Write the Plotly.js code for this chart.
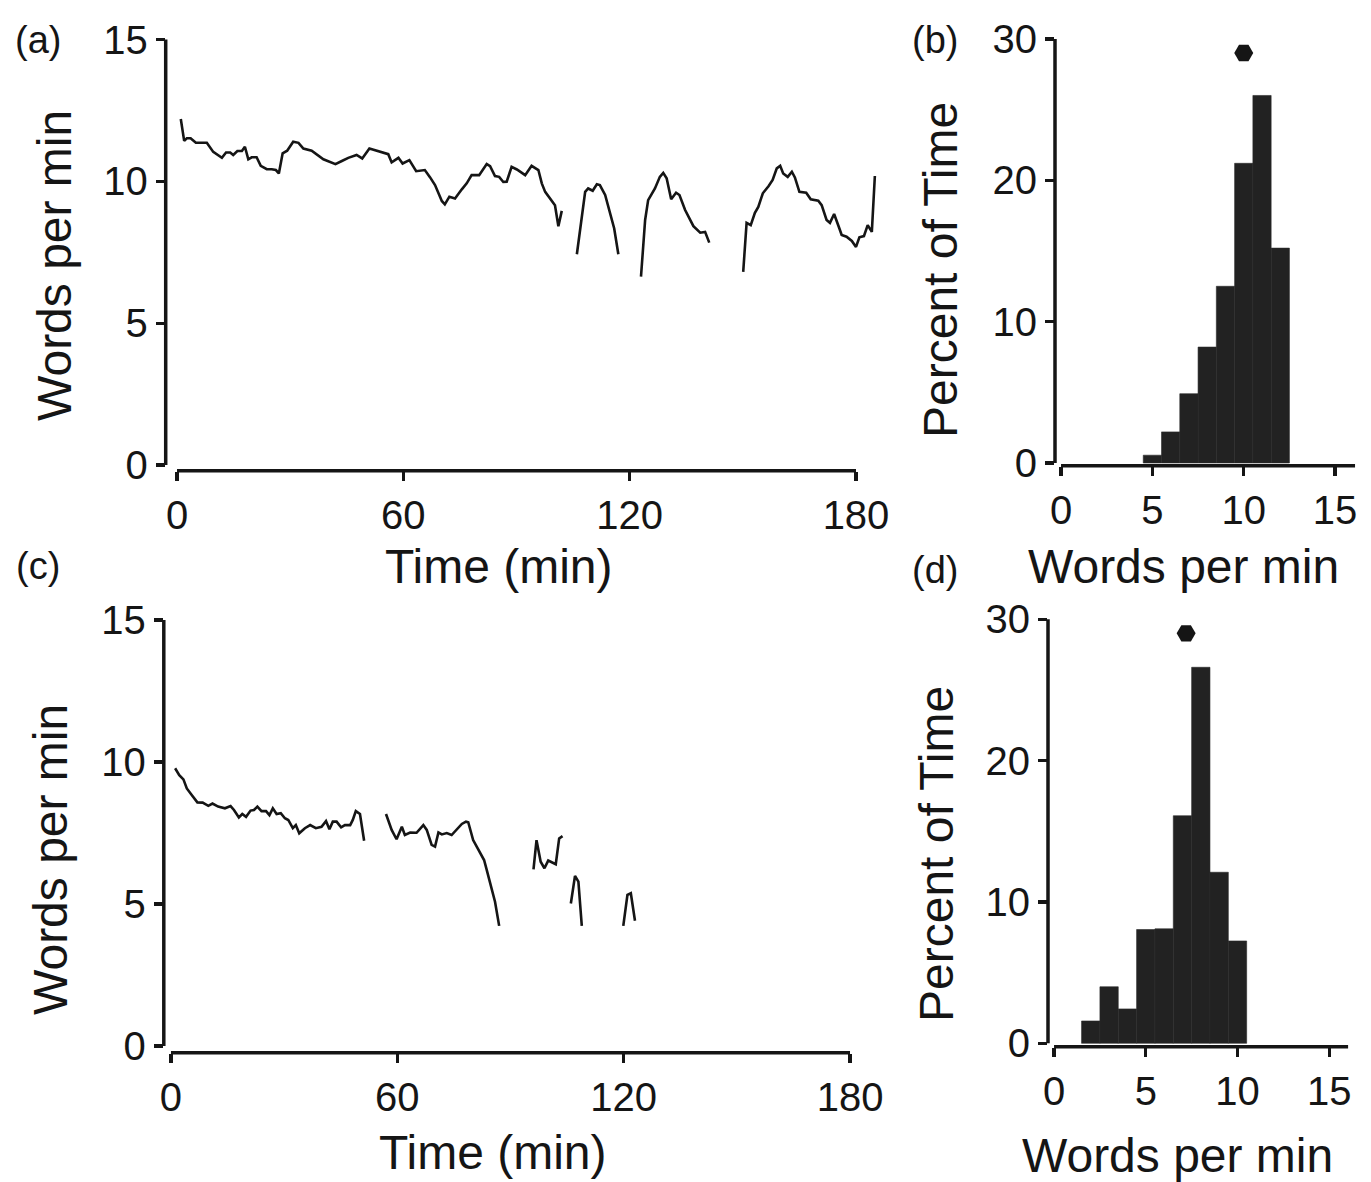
<!DOCTYPE html>
<html>
<head>
<meta charset="utf-8">
<script src="https://cdn.plot.ly/plotly-3.0.1.min.js"></script>
<style>html,body{margin:0;padding:0;background:#fff;}#chart{width:1371px;height:1182px;}</style>
</head>
<body>
<div id="chart"></div>
<script>
// ---------- DATA ----------
// Panel (a): words per minute over time (null = gap between segments)
const timeA = [1.0,1.9,2.6,3.6,5.0,7.9,9.6,11.9,13.0,14.1,14.9,16.0,17.2,18.0,18.9,19.8,21.1,22.2,23.8,25.1,26.2,27.0,28.0,29.2,30.8,32.2,33.5,35.7,38.8,42.0,43.7,45.4,47.6,49.1,51.0,52.9,56.0,56.9,58.7,59.8,61.6,63.4,65.7,67.1,68.4,70.2,71.0,72.2,73.7,75.5,76.8,78.1,80.1,82.1,83.0,84.3,85.4,86.5,87.4,88.7,90.1,92.3,94.0,95.8,96.7,97.6,99.3,100.2,101.1,102.0,
  null,
  106.0,108.2,109.0,110.2,111.3,112.1,113.5,114.8,115.9,117.0,
  null,
  123.0,124.1,124.9,126.7,128.0,128.9,129.8,131.0,132.3,133.2,134.7,136.9,138.7,140.0,141.1,
  null,
  150.1,151.0,152.1,153.2,154.1,155.3,156.8,157.9,159.0,159.9,160.7,161.9,163.0,163.8,165.0,166.8,168.0,170.0,170.9,172.2,173.1,174.2,175.6,176.2,177.5,178.9,180.0,180.9,182.1,183.1,184.2,185.0];
const wpmA = [12.2,11.43,11.52,11.52,11.36,11.36,11.04,10.83,11.02,11.02,10.93,11.07,11.07,11.22,10.78,10.85,10.85,10.55,10.43,10.43,10.4,10.28,10.99,11.08,11.4,11.36,11.16,11.08,10.78,10.61,10.72,10.83,10.93,10.81,11.16,11.08,10.96,10.67,10.83,10.63,10.75,10.36,10.4,10.14,9.87,9.31,9.19,9.46,9.4,9.72,9.93,10.22,10.22,10.61,10.54,10.19,10.16,9.98,9.99,10.51,10.42,10.22,10.55,10.4,9.93,9.63,9.34,9.16,8.42,8.96,
  null,
  7.43,9.63,9.75,9.67,9.9,9.87,9.52,8.93,8.34,7.43,
  null,
  6.64,8.64,9.34,9.75,10.16,10.3,10.11,9.37,9.6,9.52,8.99,8.42,8.19,8.22,7.84,
  null,
  6.81,8.54,8.46,8.89,9.1,9.58,9.83,10.05,10.46,10.55,10.28,10.16,10.34,10.14,9.63,9.6,9.37,9.32,9.16,8.64,8.54,8.85,8.34,8.11,8.05,7.9,7.69,8.03,8.07,8.46,8.22,10.19];

// Panel (b): histogram of words per minute (percent of time)
const binsB = [5,6,7,8,9,10,11,12];
const pctB = [0.55,2.2,4.9,8.2,12.5,21.2,26.0,15.2];
const dotB_x = [10.0];
const dotB_y = [29];

// Panel (c): words per minute over time
const timeC = [1.1,2.2,3.3,4.2,5.5,7.0,8.4,9.9,11.0,12.5,14.3,15.8,16.7,18.0,18.9,19.9,21.1,22.0,22.9,24.0,25.2,26.1,27.0,28.0,29.1,30.2,31.1,32.3,33.1,34.0,35.5,36.9,38.4,39.9,41.1,42.0,42.9,43.9,45.1,46.1,47.5,48.2,49.0,50.1,51.2,
  null,
  57.0,58.5,59.8,61.2,62.0,63.4,65.1,66.9,67.8,69.1,70.0,70.9,71.8,73.1,74.4,75.7,77.1,78.2,78.8,80.1,81.5,83.0,83.7,84.6,85.9,87.0,
  null,
  96.1,96.9,98.0,99.0,100.0,101.2,102.0,102.9,103.8,
  null,
  106.0,107.1,108.0,108.9,
  null,
  119.9,121.0,121.9,123.0];
const wpmC = [9.78,9.54,9.39,9.07,8.84,8.58,8.57,8.46,8.54,8.43,8.37,8.45,8.31,8.05,8.17,8.07,8.29,8.31,8.43,8.27,8.27,8.13,8.37,8.17,8.2,8.02,7.96,7.67,7.78,7.49,7.67,7.78,7.67,7.72,7.92,7.63,7.9,7.9,7.7,7.78,7.78,7.96,8.27,8.17,7.23,
  null,
  8.17,7.61,7.28,7.72,7.43,7.52,7.51,7.78,7.61,7.08,7.02,7.52,7.45,7.5,7.43,7.61,7.82,7.9,7.88,7.25,6.9,6.55,6.2,5.73,5.08,4.23,
  null,
  6.22,7.25,6.49,6.26,6.53,6.46,6.4,7.31,7.39,
  null,
  5.02,5.99,5.79,4.23,
  null,
  4.23,5.32,5.38,4.41];

// Panel (d): histogram
const binsD = [2,3,4,5,6,7,8,9,10];
const pctD = [1.58,4.0,2.43,8.05,8.1,16.1,26.6,12.1,7.24];
const dotD_x = [7.2];
const dotD_y = [29];

// Tick labels
const timeTicks = [0,60,120,180];
const wpmTicks = [0,5,10,15];
const wpmHistTicks = [0,5,10,15];
const pctTicks = [0,10,20,30];

// Text
const panelLabels = ['(a)','(b)','(c)','(d)'];
const timeTitle = 'Time (min)';
const wpmTitle = 'Words per min';
const pctTitle = 'Percent of Time';

// ---------- STYLE ----------
const INK = '#151515';
const FONT = 'Liberation Sans, Arial, Helvetica, sans-serif';
const W = 1371, H = 1182;
const px = v => v / W;
const py = v => 1 - v / H;

const lineStyle = {color: INK, width: 2.6};
const barStyle = {color: '#222222', line: {color: '#2a2a2a', width: 0.6}};
const dotStyle = {color: INK, size: 19, symbol: 'hexagon2'};

const traces = [
  {type:'scatter', mode:'lines', x: timeA, y: wpmA, line: lineStyle, connectgaps:false, xaxis:'x', yaxis:'y'},
  {type:'bar', x: binsB, y: pctB, width: 1, marker: barStyle, xaxis:'x2', yaxis:'y2'},
  {type:'scatter', mode:'markers', x: dotB_x, y: dotB_y, marker: dotStyle, cliponaxis:false, xaxis:'x2', yaxis:'y2'},
  {type:'scatter', mode:'lines', x: timeC, y: wpmC, line: lineStyle, connectgaps:false, xaxis:'x3', yaxis:'y3'},
  {type:'bar', x: binsD, y: pctD, width: 1, marker: barStyle, xaxis:'x4', yaxis:'y4'},
  {type:'scatter', mode:'markers', x: dotD_x, y: dotD_y, marker: dotStyle, cliponaxis:false, xaxis:'x4', yaxis:'y4'}
];

function ax(extra) {
  return Object.assign({
    showline:false, zeroline:false, showgrid:false,
    ticks:'outside', ticklen:9, tickwidth:3.2, tickcolor:INK,
    tickfont:{family:FONT, size:40, color:INK},
    tickmode:'array', fixedrange:true
  }, extra);
}

const layout = {
  width: W, height: H,
  margin:{l:0,r:0,t:0,b:0},
  paper_bgcolor:'#ffffff', plot_bgcolor:'#ffffff',
  showlegend:false, hovermode:false, bargap:0,
  font:{family:FONT, size:40, color:INK},
  xaxis:  ax({domain:[px(165.7), px(882.4)], range:[-3,187], tickvals:timeTicks, ticktext:timeTicks.map(String), anchor:'y'}),
  yaxis:  ax({domain:[py(470.7), py(39.0)], range:[-0.2,15.02], tickvals:wpmTicks, ticktext:wpmTicks.map(String), anchor:'x'}),
  xaxis2: ax({domain:[px(1055), px(1355.2)], range:[-0.33,16.1], tickvals:wpmHistTicks, ticktext:wpmHistTicks.map(String), anchor:'y2'}),
  yaxis2: ax({domain:[py(465.8), py(38.5)], range:[-0.2,30.03], tickvals:pctTicks, ticktext:pctTicks.map(String), anchor:'x2'}),
  xaxis3: ax({domain:[px(163.8), px(851.9)], range:[-1.9,180.5], tickvals:timeTicks, ticktext:timeTicks.map(String), anchor:'y3'}),
  yaxis3: ax({domain:[py(1052.8), py(619.5)], range:[-0.24,15.02], tickvals:wpmTicks, ticktext:wpmTicks.map(String), anchor:'x3'}),
  xaxis4: ax({domain:[px(1048), px(1348.3)], range:[-0.33,16.04], tickvals:wpmHistTicks, ticktext:wpmHistTicks.map(String), anchor:'y4'}),
  yaxis4: ax({domain:[py(1046.7), py(618.8)], range:[-0.24,30.03], tickvals:pctTicks, ticktext:pctTicks.map(String), anchor:'x4'}),
  shapes: [],
  annotations: []
};

// Axis lines spanning first to last tick (detached-axis look)
const axisPairs = [
  {x:'x', y:'y', xt:timeTicks, yt:wpmTicks, hist:false},
  {x:'x2', y:'y2', xt:wpmHistTicks, yt:pctTicks, hist:true},
  {x:'x3', y:'y3', xt:timeTicks, yt:wpmTicks, hist:false},
  {x:'x4', y:'y4', xt:wpmHistTicks, yt:pctTicks, hist:true}
];
axisPairs.forEach(p => {
  const xr = layout[p.x.replace('x','xaxis')].range;
  const x0 = p.xt[0];
  const x1 = p.hist ? xr[1] : p.xt[p.xt.length-1];
  layout.shapes.push({type:'line', xref:p.x, yref:p.y+' domain', x0:x0, x1:x1, y0:0, y1:0, line:{color:INK, width:3.5}, layer:'above'});
  layout.shapes.push({type:'line', xref:p.x+' domain', yref:p.y, x0:0, x1:0, y0:p.yt[0], y1:p.yt[p.yt.length-1], line:{color:INK, width:3.5}, layer:'above'});
});

function ann(text, x, y, size, angle) {
  layout.annotations.push({text:text, xref:'paper', yref:'paper', x:px(x), y:py(y), xanchor:'center', yanchor:'middle', showarrow:false, textangle: angle||0, font:{family:FONT, size:size, color:INK}});
}
// panel labels
ann(panelLabels[0], 38, 40, 38);
ann(panelLabels[1], 935, 40, 38);
ann(panelLabels[2], 38, 566, 38);
ann(panelLabels[3], 935, 570, 38);
// axis titles
ann(timeTitle, 499, 567, 48);
ann(timeTitle, 493, 1152, 48);
ann(wpmTitle, 1183, 567, 48);
ann(wpmTitle, 1177, 1155, 48);
ann(wpmTitle, 55, 266, 48, -90);
ann(wpmTitle, 50, 860, 48, -90);
ann(pctTitle, 940, 270, 48, -90);
ann(pctTitle, 936, 854, 48, -90);

Plotly.newPlot('chart', traces, layout, {staticPlot:true, displayModeBar:false});
</script>
</body>
</html>
